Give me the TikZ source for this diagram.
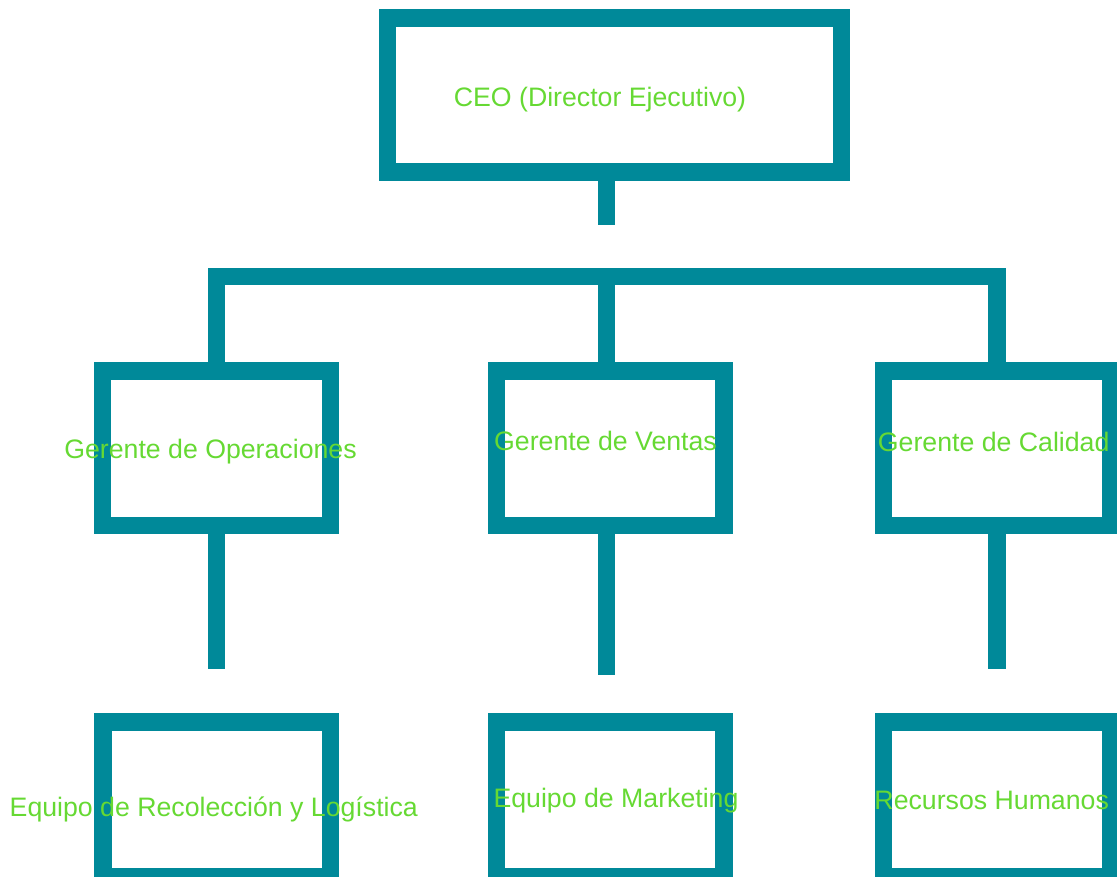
\documentclass[tikz,border=0pt]{standalone}
\usepackage{fontspec}
\setmainfont{Liberation Sans}
\definecolor{tealA}{RGB}{0,137,153}
\definecolor{greenA}{RGB}{102,217,51}
\begin{document}
\begin{tikzpicture}[x=1pt,y=-1pt,
  box/.style={draw=tealA,line width=17.5pt,rectangle,inner sep=0pt,minimum width=#1,minimum height=154.3pt},
  conn/.style={draw=tealA,line width=17.3pt},
  lbl/.style={text=greenA,font=\fontsize{26.7}{32}\selectfont,anchor=base,inner sep=0pt}]
\useasboundingbox (0,0) rectangle (1117,877);
% boxes
\node[box=454pt] (ceo) at (614.3,95) {};
\node[box=228pt] (ops) at (216.7,448.3) {};
\node[box=227.3pt] (ven) at (610.2,448.3) {};
\node[box=227.7pt] (cal) at (997.2,448.3) {};
\node[box=227.3pt,minimum height=155pt] (rec) at (216.8,799.7) {};
\node[box=227.3pt,minimum height=155pt] (mkt) at (610.2,799.7) {};
\node[box=227.7pt,minimum height=155pt] (rh) at (997.2,799.7) {};
% connector points
\coordinate (ceoend) at (606.7,225);
\coordinate (barL) at (216.3,276.3);
\coordinate (barM) at (606.7,276.3);
\coordinate (barR) at (997,276.3);
\coordinate (opsend) at (216.5,669);
\coordinate (venend) at (606.7,675);
\coordinate (calend) at (997,669.3);
% connectors
\draw[conn] (ceo.south -| ceoend) -- (ceoend);
\draw[conn] (ops.north -| barL) -- (barL) -- (barR) -- (cal.north -| barR);
\draw[conn] (barM) -- (ven.north -| barM);
\draw[conn] (ops.south -| opsend) -- (opsend);
\draw[conn] (ven.south -| venend) -- (venend);
\draw[conn] (cal.south -| calend) -- (calend);
% labels
\node[lbl] (tceo) at (600,106.7) {CEO (Director Ejecutivo)};
\node[lbl] (tops) at (210.5,458.3) {Gerente de Operaciones};
\node[lbl] (tven) at (605.5,450) {Gerente de Ventas};
\node[lbl] (tcal) at (993.7,451.7) {Gerente de Calidad};
\node[lbl] (trec) at (213.8,816.7) {Equipo de Recolección y Logística};
\node[lbl] (tmkt) at (616,807.3) {Equipo de Marketing};
\node[lbl] (trh) at (991.7,809.3) {Recursos Humanos};
\end{tikzpicture}
\end{document}
